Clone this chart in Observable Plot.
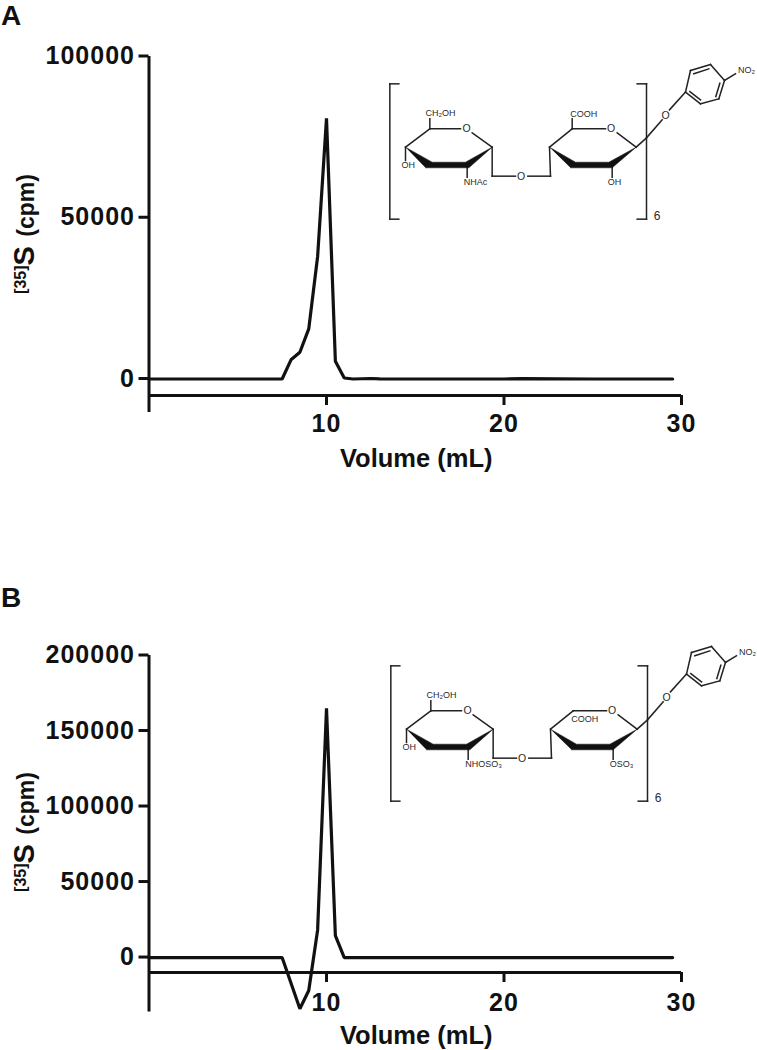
<!DOCTYPE html>
<html><head><meta charset="utf-8">
<script src="https://cdn.jsdelivr.net/npm/d3@7"></script>
<script src="https://cdn.jsdelivr.net/npm/@observablehq/plot@0.6"></script>
<style>
html,body{margin:0;padding:0;background:#fff;width:757px;height:1050px;overflow:hidden}
.panel{position:relative;width:757px;height:525px}
.panel svg{position:absolute;left:0;top:0;display:block;background:transparent}
.letter{position:absolute;left:1px;font:bold 28px "Liberation Sans",Arial,sans-serif;color:#111;line-height:.8}
</style></head><body>
<div class="panel" id="a"><div class="letter" style="top:4.6px">A</div></div>
<div class="panel" id="b"><div class="letter" style="top:62px">B</div></div>
<script>
const volumeA = [0,7.5,8,8.5,9,9.5,10,10.5,11,11.5,12.5,13,20,21,25,29.5];
const cpmA    = [0,0,5950,8300,15560,38000,80800,5500,300,0,150,50,0,100,0,0];
const volumeB = [0,7.5,8.5,9,9.5,10,10.5,11,29.5];
const cpmB    = [0,0,-33900,-21800,18300,165000,14500,0,0];
const xTicks = [10,20,30];
const yTicksA = [0,50000,100000];
const yTicksB = [0,50000,100000,150000,200000];
const axisFloorA = -5116, stemFloorA = -10400;
const axisFloorB = -9900, stemFloorB = -36000;

// Inset structure, in its own drawing units
const bondsCommon = [
 [85,100,58,100],[58,100,58,506],[58,506,85,506],
 [800,100,828,100],[828,100,828,506],[828,506,800,506],
 [178,235,270,235],[305,247,365,290],[105,290,178,235],
 [178,235,178,205],[105,290,105,330],[290,350,290,380],
 [365,290,365,377],[365,377,435,377],[472,377,540,377],[540,377,537,290],
 [537,290,605,235],[605,235,705,235],[740,247,797,290],
 [725,350,725,380],
 [797,290,828,262],[828,262,875,208],[897,178,945,125],
 [945,125,960,60],[960,60,1020,42],[1020,42,1062,90],[1062,90,1045,145],[1045,145,990,160],[990,160,945,125],
 [970,70,1015,55],[1048,98,1036,138],[990,148,958,123],
 [1062,90,1095,70]
];
const bondCooh = [[605,235,605,205]];
const wedges = [
 {id:1,pts:[[105,290],[185,335],[285,335],[365,290],[295,352],[165,352]]},
 {id:2,pts:[[537,290],[615,335],[715,335],[797,290],[725,352],[600,352]]}
];
const labelsCommon = [
 ["CH₂OH",210,188],["O",288,235],["OH",113,344],["O",452,377],["O",722,235],
 ["COOH",640,190],["O",885,196],["NO₂",1128,59]
];
const labelsA = [["NHAc",315,396],["OH",732,396]];
const labelsB = [["NHOSO₃",336,396],["OSO₃",750,396]];
const labelsBMoved = [["COOH",640,260]];
const subscriptNumber = ["6",860,497];

function insetOf(labels,bonds,top,left){
  const rows = labels.map(l=>({t:l[0],x:l[1],y:l[2]}));
  const wedgeRows = wedges.flatMap(w=>w.pts.map(p=>({id:w.id,x:p[0],y:p[1]})));
  const svg = Plot.plot({
    width:387,height:190,margin:0,
    x:{domain:[0,1161],range:[0,387],axis:null},
    y:{domain:[0,570],range:[0,190],axis:null},
    marks:[
      Plot.link(bonds,{x1:d=>d[0],y1:d=>d[1],x2:d=>d[2],y2:d=>d[3],stroke:"#222",strokeWidth:1.5,strokeLinecap:"square"}),
      Plot.line(wedgeRows,{x:"x",y:"y",z:"id",fill:"#111",stroke:"#111",strokeWidth:0.5}),
      Plot.text(rows.filter(r=>r.t!=="O"),{x:"x",y:"y",text:"t",fontSize:9,fill:"#2a2a2a"}),
      Plot.text(rows.filter(r=>r.t==="O"),{x:"x",y:"y",text:"t",fontSize:10.5,fill:"#2a2a2a"}),
      Plot.text([{t:subscriptNumber[0],x:subscriptNumber[1],y:subscriptNumber[2]}],{x:"x",y:"y",text:"t",fontSize:12,fill:"#2a2a2a"})
    ],
    style:{fontFamily:'"Liberation Sans",Arial,sans-serif',background:"transparent",opacity:0.995}
  });
  svg.style.left=left+"px"; svg.style.top=top+"px";
  return svg;
}

function chart(xs,ys,opt){
  const rows = xs.map((v,i)=>({v,c:ys[i]}));
  const svg = Plot.plot({
    width:757,height:525,
    marginLeft:148.5,marginRight:76,marginTop:opt.top,marginBottom:opt.bottom,
    x:{domain:[0,30]},
    y:{domain:[opt.floor,opt.max]},
    style:{fontFamily:'"Liberation Sans",Arial,sans-serif',fontWeight:"bold",color:"#111",background:"transparent"},
    marks:[
      Plot.axisY({ticks:opt.yTicks,tickFormat:d=>String(d),tickSize:10,tickPadding:4,fontSize:25,label:null,strokeWidth:3,stroke:"#111",dy:-0.5}),
      Plot.axisX({ticks:xTicks,tickFormat:d=>String(d),tickSize:10,tickPadding:opt.xPad,fontSize:25,strokeWidth:3,stroke:"#111",label:null}),
      Plot.ruleY([opt.floor],{x1:0,x2:30,stroke:"#111",strokeWidth:3}),
      Plot.ruleX([0],{y1:opt.stem,y2:opt.max,stroke:"#111",strokeWidth:3}),
      Plot.line(rows,{x:"v",y:"c",stroke:"#111",strokeWidth:3.2,strokeLinejoin:"miter",curve:"linear"}),
      Plot.text(["Volume (mL)"],{frameAnchor:"bottom",dy:71,dx:1,fontSize:25.5,fill:"#111",fontWeight:"bold"}),
      Plot.text(["[35]S (cpm)"],{frameAnchor:"left",textAnchor:"middle",rotate:-90,dx:-123.5,dy:opt.yLabelDy,fontSize:26,fill:"#111",fontWeight:"bold"})
    ]
  });
  d3.select(svg).selectAll("text").filter(function(){return this.textContent==="[35]S (cpm)";})
    .html('<tspan font-size="16" dy="-8">[35]</tspan><tspan font-size="29" dy="8">S</tspan><tspan font-size="23" dx="3"> (cpm)</tspan>');
  d3.select(svg).selectAll('[aria-label="y-axis tick label"] text, [aria-label="x-axis tick label"] text').style("letter-spacing","1px");
  return svg;
}

const pa=document.getElementById("a"), pb=document.getElementById("b");
pa.prepend(chart(volumeA,cpmA,{top:56,bottom:130,floor:axisFloorA,max:100000,stem:stemFloorA,yTicks:yTicksA,xPad:9,yLabelDy:8}));
pb.prepend(chart(volumeB,cpmB,{top:130,bottom:78,floor:axisFloorB,max:200000,stem:stemFloorB,yTicks:yTicksB,xPad:11,yLabelDy:18}));
pa.append(insetOf([...labelsCommon,...labelsA],[...bondsCommon,...bondCooh],50,370));
pb.append(insetOf([...labelsCommon.filter(l=>l[0]!=="COOH"),...labelsB,...labelsBMoved],bondsCommon,107.3,371));
</script>
</body></html>
